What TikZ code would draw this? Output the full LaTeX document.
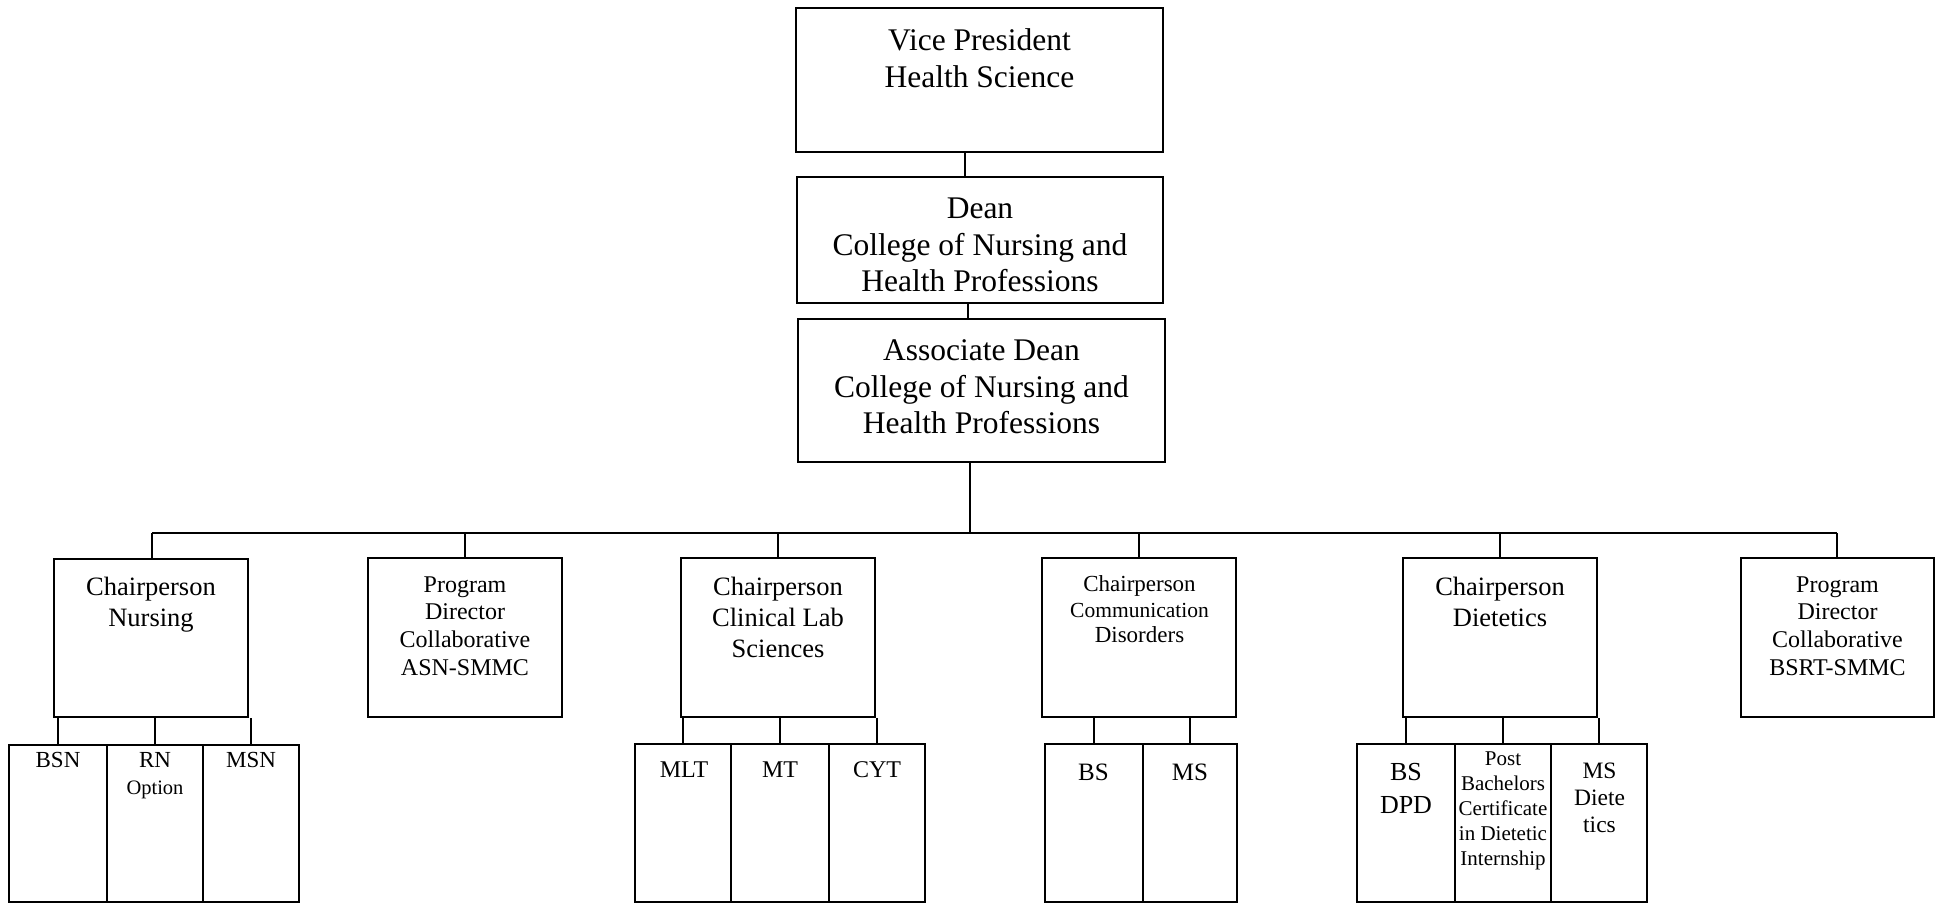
\documentclass[tikz,border=0pt]{standalone}
\usepackage{fontspec}
\setmainfont{Liberation Serif}
\usetikzlibrary{fit}
\newcommand{\topfix}{\rule{0pt}{0.9em}}
\begin{document}
\begin{tikzpicture}[x=1pt,y=-1pt,
  box/.style={draw, line width=2pt, inner sep=0pt},
  link/.style={line width=2pt},
  lbl/.style={anchor=north, inner sep=0pt, align=center},
  fTop/.style={font={\fontsize{31.5}{36.5}\selectfont}},
  fChair/.style={font={\fontsize{26.5}{31}\selectfont}},
  fComm/.style={font={\fontsize{23}{25.5}\selectfont}},
  fProg/.style={font={\fontsize{24}{27.7}\selectfont}},
  fNurs/.style={font={\fontsize{23}{27}\selectfont}},
  fClin/.style={font={\fontsize{24}{27}\selectfont}},
  fCom/.style={font={\fontsize{25}{28}\selectfont}},
  fDpd/.style={font={\fontsize{26}{33}\selectfont}},
  fPost/.style={font={\fontsize{21}{25}\selectfont}},
  fMsd/.style={font={\fontsize{23.5}{27}\selectfont}}
]
\fill[white] (0,0) rectangle (1936,904);
\useasboundingbox (0,0) rectangle (1936,904);

% top chain
\node[box, fit={(796,8) (1163,152)}] (vp) {};
\node[box, fit={(797,177) (1163,303)}] (dean) {};
\node[box, fit={(798,319) (1165,462)}] (adean) {};

% chair level
\node[box, fit={(54,559) (248,717)}] (nurse) {};
\node[box, fit={(368,558) (562,717)}] (asn) {};
\node[box, fit={(681,558) (875,717)}] (clin) {};
\node[box, fit={(1042,558) (1236,717)}] (comm) {};
\node[box, fit={(1403,558) (1597,717)}] (diet) {};
\node[box, fit={(1741,558) (1934,717)}] (bsrt) {};

% program level
\node[box, fit={(9,745) (107,902)}] (bsn) {};
\node[box, fit={(107,745) (203,902)}] (rn) {};
\node[box, fit={(203,745) (299,902)}] (msn) {};
\node[box, fit={(635,744) (731,902)}] (mlt) {};
\node[box, fit={(731,744) (829,902)}] (mt) {};
\node[box, fit={(829,744) (925,902)}] (cyt) {};
\node[box, fit={(1045,744) (1143,902)}] (cbs) {};
\node[box, fit={(1143,744) (1237,902)}] (cms) {};
\node[box, fit={(1357,744) (1455,902)}] (dbs) {};
\node[box, fit={(1455,744) (1551,902)}] (pbc) {};
\node[box, fit={(1551,744) (1647,902)}] (dms) {};

% connectors
\coordinate (busL) at (152,533);
\coordinate (busR) at (1837,533);
\draw[link] ([xshift=-14.5pt]vp.south) -- ([xshift=-14.5pt]vp.south |- dean.north);
\draw[link] ([xshift=-12pt]dean.south) -- ([xshift=-12pt]dean.south |- adean.north);
\draw[link] ([xshift=-11.5pt]adean.south) -- ([xshift=-11.5pt]adean.south |- busL);
\draw[link] (busL) -- (busR);
\draw[link] (busL) -- (busL |- nurse.north);
\draw[link] (asn.north) -- (asn.north |- busL);
\draw[link] (clin.north) -- (clin.north |- busL);
\draw[link] (comm.north) -- (comm.north |- busL);
\draw[link] (diet.north) -- (diet.north |- busL);
\draw[link] (busR) -- (busR |- bsrt.north);

\draw[link] (bsn.north) -- (bsn.north |- nurse.south);
\draw[link] (rn.north) -- (rn.north |- nurse.south);
\draw[link] (msn.north) -- (msn.north |- nurse.south);
\draw[link] (mlt.north) -- (mlt.north |- clin.south);
\draw[link] (mt.north) -- (mt.north |- clin.south);
\draw[link] (cyt.north) -- (cyt.north |- clin.south);
\draw[link] (cbs.north) -- (cbs.north |- comm.south);
\draw[link] (cms.north) -- (cms.north |- comm.south);
\draw[link] (dbs.north) -- (dbs.north |- diet.south);
\draw[link] (pbc.north) -- (pbc.north |- diet.south);
\draw[link] (dms.north) -- (dms.north |- diet.south);

% labels
\node[lbl, fTop] (vp-t) at (979.5,22) {\topfix Vice President\\Health Science};
\node[lbl, fTop] (dean-t) at (980,190) {\topfix Dean\\College of Nursing and\\Health Professions};
\node[lbl, fTop] (adean-t) at (981.5,332) {\topfix Associate Dean\\College of Nursing and\\Health Professions};

\node[lbl, fChair] (nurse-t) at (151,571) {\topfix Chairperson\\Nursing};
\node[lbl, fProg] (asn-t) at (465,570.3) {\topfix Program\\Director\\Collaborative\\ASN-SMMC};
\node[lbl, fChair] (clin-t) at (778,571) {\topfix Chairperson\\Clinical Lab\\Sciences};
\node[lbl, fComm] (comm-t) at (1139.5,571) {\topfix Chairperson\\{\fontsize{21.5}{25.5}\selectfont Communication}\\Disorders};
\node[lbl, fChair] (diet-t) at (1500,571) {\topfix Chairperson\\Dietetics};
\node[lbl, fProg] (bsrt-t) at (1837.5,570.3) {\topfix Program\\Director\\Collaborative\\BSRT-SMMC};

\node[lbl, fNurs] (bsn-t) at (58,747) {\topfix BSN};
\node[lbl, fNurs] (rn-t) at (155,747) {\topfix RN\\{\fontsize{20.5}{27}\selectfont Option}};
\node[lbl, fNurs] (msn-t) at (251,747) {\topfix MSN};
\node[lbl, fClin] (mlt-t) at (684,755.3) {\topfix MLT};
\node[lbl, fClin] (mt-t) at (780,755.3) {\topfix MT};
\node[lbl, fClin] (cyt-t) at (877,755.3) {\topfix CYT};
\node[lbl, fCom] (cbs-t) at (1093.5,757.8) {\topfix BS};
\node[lbl, fCom] (cms-t) at (1190,757.8) {\topfix MS};
\node[lbl, fDpd] (dbs-t) at (1406,757.2) {\topfix BS\\DPD};
\node[lbl, fPost] (pbc-t) at (1503,746) {\topfix Post\\Bachelors\\Certificate\\in Dietetic\\Internship};
\node[lbl, fMsd] (dms-t) at (1599.5,757.6) {\topfix MS\\Diete\\tics};
\end{tikzpicture}
\end{document}
